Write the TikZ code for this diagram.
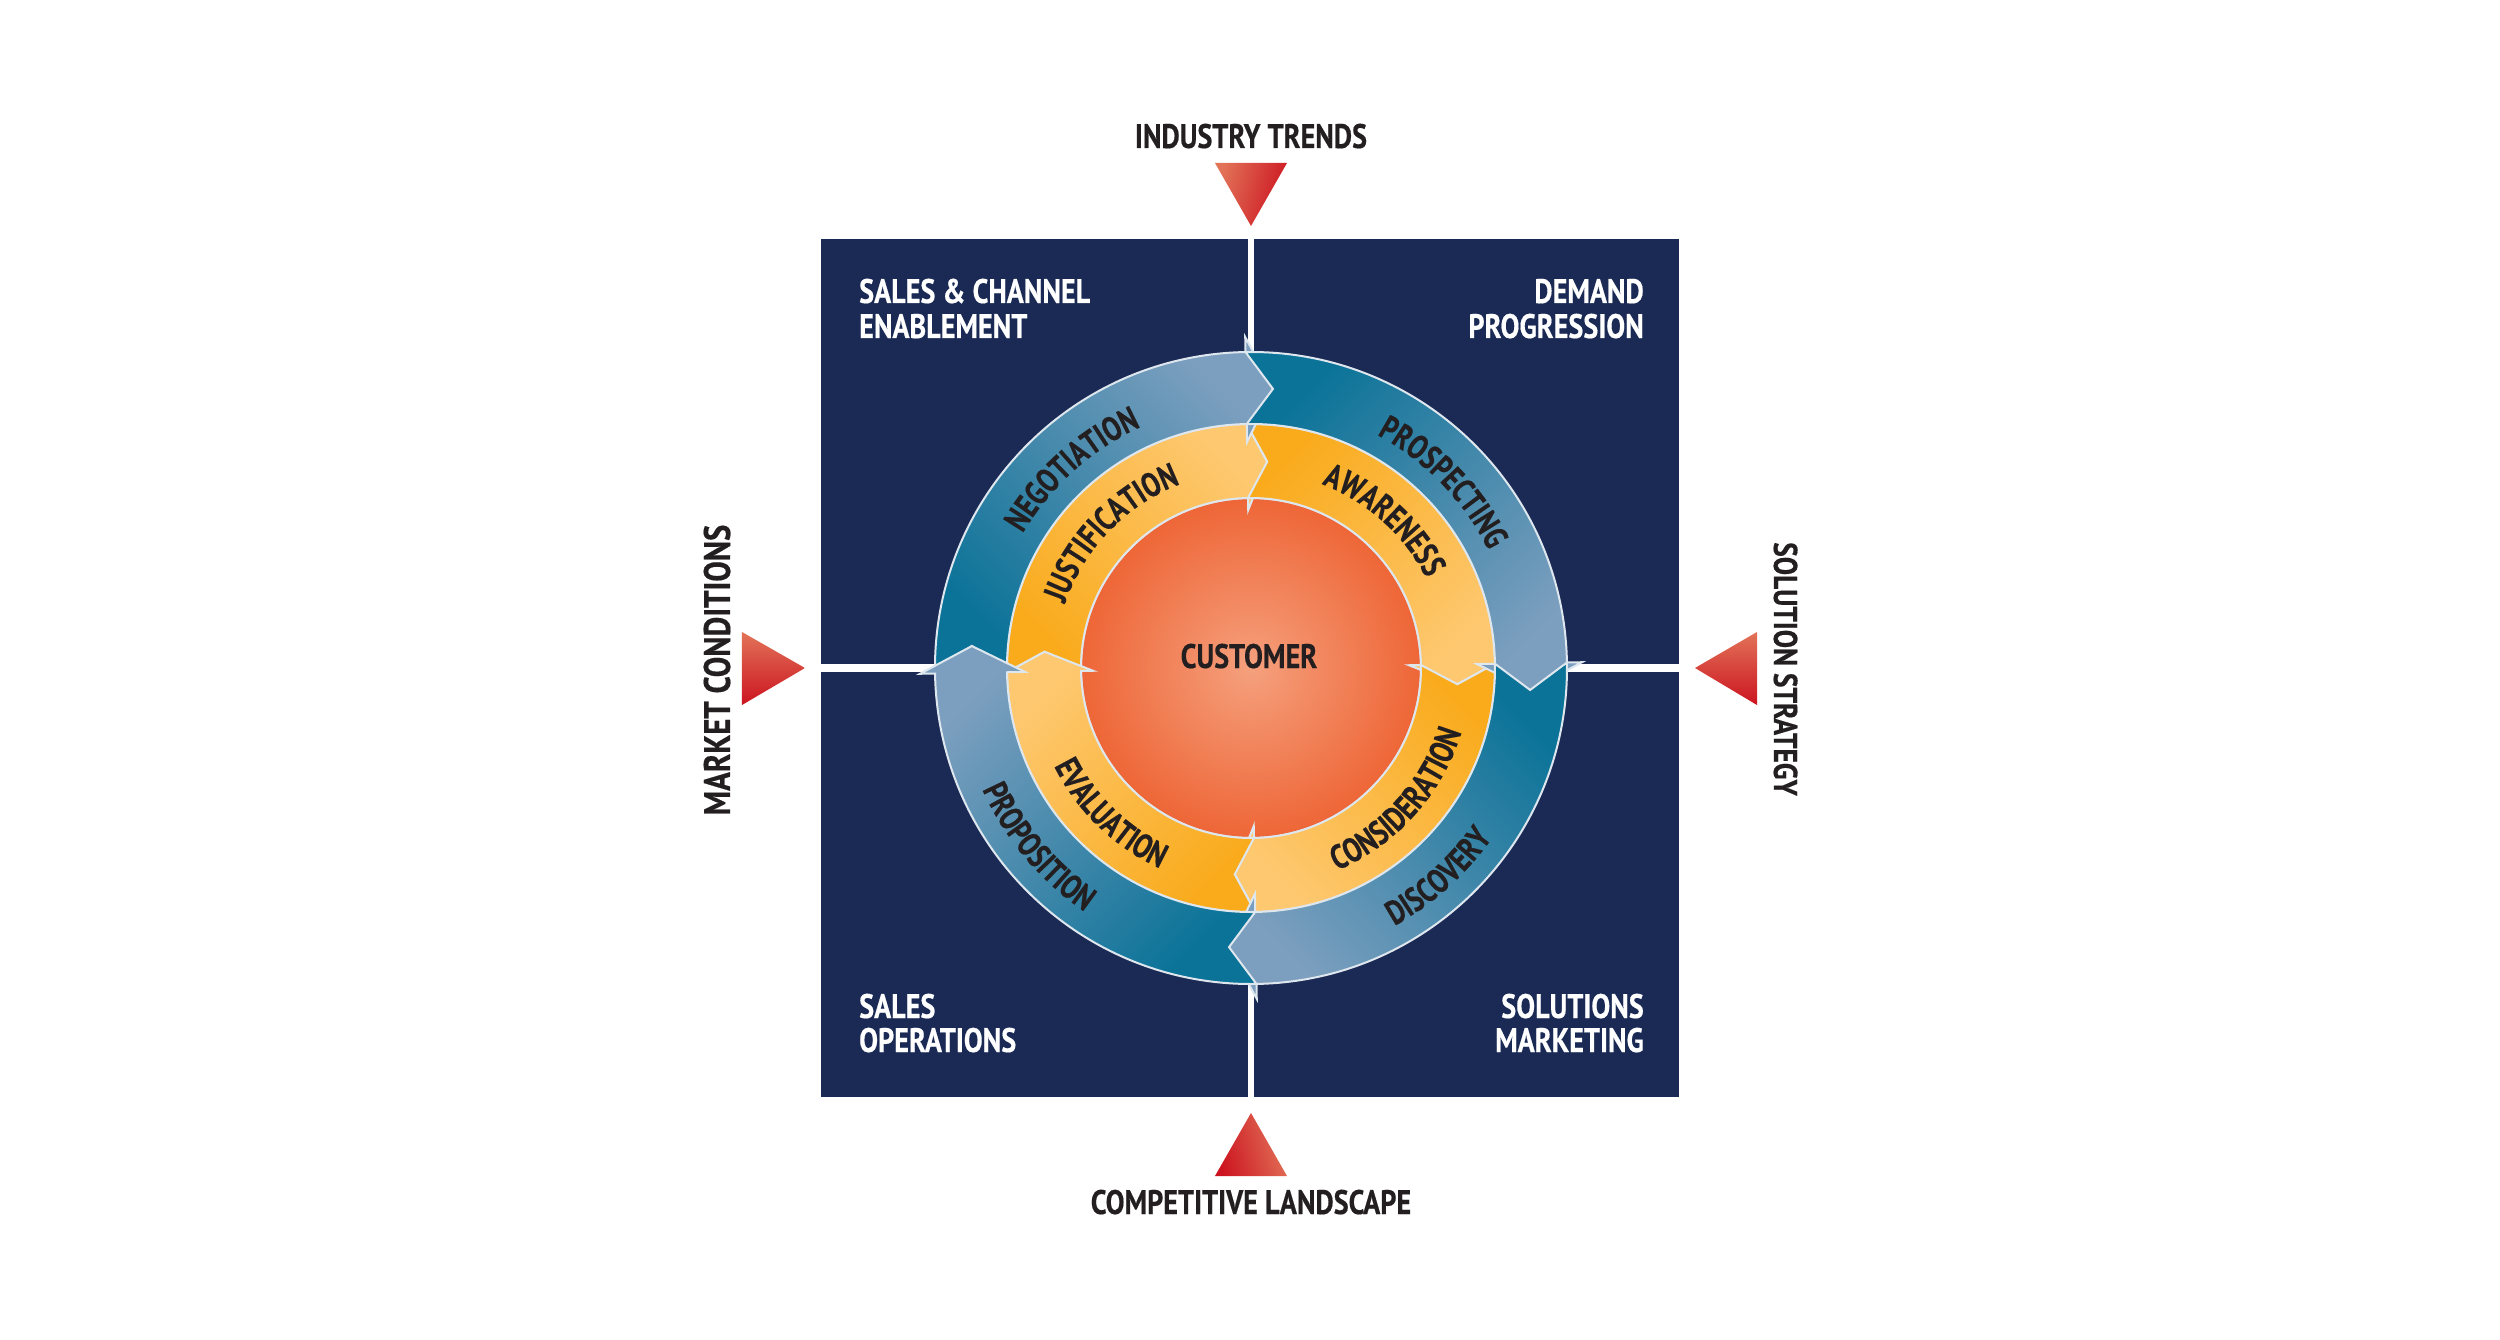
\documentclass[tikz,border=0pt]{standalone}
\usepackage{fontspec}
\newfontfamily\labf{PT Sans}[UprightFont={* Bold}, FakeStretch=0.83, FakeBold=0.4]
\newfontfamily\ringf{PT Sans}[UprightFont={* Bold}, FakeStretch=0.78, FakeBold=0.4]
\usetikzlibrary{decorations.text}
\definecolor{navy}{RGB}{26,42,85}
\definecolor{tealD}{RGB}{11,115,152}
\definecolor{steelL}{RGB}{125,159,191}
\definecolor{oraD}{RGB}{249,171,28}
\definecolor{oraL}{RGB}{254,200,112}
\definecolor{custIn}{RGB}{245,160,125}
\definecolor{custOut}{RGB}{238,102,55}
\definecolor{outl}{RGB}{222,230,238}
\definecolor{triL}{RGB}{226,115,88}
\definecolor{triD}{RGB}{204,20,32}
\definecolor{txt}{RGB}{35,31,32}
\newcommand\labfont{\labf\fontsize{34}{35}\selectfont}
\newcommand\ringfont{\ringf\fontsize{34}{35}\selectfont}
% #1 tail angle, #2 Rin, #3 Rout, #4 inner flare, #5 outer flare, #6 options
\newcommand\ringseg[6]{%
  \draw[#6] ({#1+1}:#3) arc[start angle={#1+1}, end angle={#1-89}, radius=#3pt]
    -- ({#1-89}:{#3+#5}) -- ({#1-94.5}:{(#2+#3)/2}) -- ({#1-89}:{#2-#4}) -- ({#1-89}:#2)
    arc[start angle={#1-89}, end angle={#1+1}, radius=#2pt]
    -- ({#1-4.5}:{(#2+#3)/2}) -- cycle;}
\newcommand\ringtext[4]{% #1 text, #2 center angle, #3 radius, #4 cw(1)/ccw(-1)
  \path[decorate, decoration={text along path, text={|\ringfont|#1}, text align=center, text color=txt}]
    ({#2+#4*60}:#3) arc[start angle={#2+#4*60}, end angle={#2-#4*60}, radius=#3pt];}
\tikzset{
  seg/.style={draw=outl, line width=2pt, line join=miter},
  lab/.style={font=\labfont, text=white, inner sep=0pt},
  outlab/.style={font=\labfont, text=txt, inner sep=0pt},
}
\begin{document}
\begin{tikzpicture}[x=1pt,y=1pt]
\path[use as bounding box, fill=white] (-1251,-671) rectangle (1249,668);
% quadrant square
\fill[navy] (-430,-429) rectangle (428,429);
\fill[white] (-3,-429) rectangle (3,429);
\fill[white] (-430,-4) rectangle (428,4);
% base rings
\fill[tealD, even odd rule] (0,0) circle (316pt) circle (244pt);
\fill[oraD, even odd rule] (0,0) circle (244pt) circle (170pt);
% customer
\draw[draw=outl, line width=2pt, inner color=custIn, outer color=custOut] (0,0) circle (170pt);
% orange ring segments
\ringseg{180}{170}{244}{12}{0}{seg, bottom color=oraD, top color=oraL, shading angle=-45}
\ringseg{90}{170}{244}{12}{0}{seg, bottom color=oraD, top color=oraL, shading angle=-135}
\ringseg{0}{170}{244}{12}{0}{seg, bottom color=oraD, top color=oraL, shading angle=135}
\ringseg{270}{170}{244}{12}{0}{seg, bottom color=oraD, top color=oraL, shading angle=45}
% blue ring segments
\ringseg{180}{244}{316}{18}{15}{seg, bottom color=tealD, top color=steelL, shading angle=-45}
\ringseg{90}{244}{316}{18}{15}{seg, bottom color=tealD, top color=steelL, shading angle=-135}
\ringseg{0}{244}{316}{18}{15}{seg, bottom color=tealD, top color=steelL, shading angle=135}
\ringseg{270}{244}{316}{18}{15}{seg, bottom color=tealD, top color=steelL, shading angle=45}
% ring labels
\ringtext{NEGOTIATION}{132}{265}{1}
\ringtext{PROSPECTING}{44}{265}{1}
\ringtext{DISCOVERY}{-48}{295}{-1}
\ringtext{PROPOSITION}{220}{295}{-1}
\ringtext{JUSTIFICATION}{136}{197}{1}
\ringtext{AWARENESS}{48}{197}{1}
\ringtext{CONSIDERATION}{-42}{220}{-1}
\ringtext{EVALUATION}{226}{220}{-1}
\node[outlab, anchor=base] (cust) at (-2,0) {CUSTOMER};
% quadrant labels
\node[lab, anchor=base west] (sce1) at (-392,365) {SALES \& CHANNEL};
\node[lab, anchor=base west] (sce2) at (-392,330) {ENABLEMENT};
\node[lab, anchor=base east] (dp1) at (393,365) {DEMAND};
\node[lab, anchor=base east] (dp2) at (393,330) {PROGRESSION};
\node[lab, anchor=base west] (so1) at (-392,-350) {SALES};
\node[lab, anchor=base west] (so2) at (-392,-384) {OPERATIONS};
\node[lab, anchor=base east] (sm1) at (393,-350) {SOLUTIONS};
\node[lab, anchor=base east] (sm2) at (393,-384) {MARKETING};
% triangles
\shade[left color=triL, right color=triD, shading angle=75] (-36,505) -- (36,505) -- (0,442) -- cycle;
\shade[left color=triD, right color=triL, shading angle=105] (-36,-508) -- (36,-508) -- (0,-445) -- cycle;
\shade[top color=triL, bottom color=triD] (-509,36) -- (-509,-37) -- (-446,0) -- cycle;
\shade[top color=triL, bottom color=triD] (506,36) -- (506,-37) -- (444,0) -- cycle;
% outer labels
\node[outlab, anchor=base] (it) at (0,520) {INDUSTRY TRENDS};
\node[outlab, anchor=base] (cl) at (0,-546) {COMPETITIVE LANDSCAPE};
\node[outlab, anchor=base, rotate=90, font=\labf\fontsize{37}{38}\selectfont] (mc) at (-521,-2) {MARKET CONDITIONS};
\node[outlab, anchor=base, rotate=-90, font=\labf\fontsize{33}{34}\selectfont] (ss) at (523,-1) {SOLUTION STRATEGY};
\end{tikzpicture}
\end{document}
